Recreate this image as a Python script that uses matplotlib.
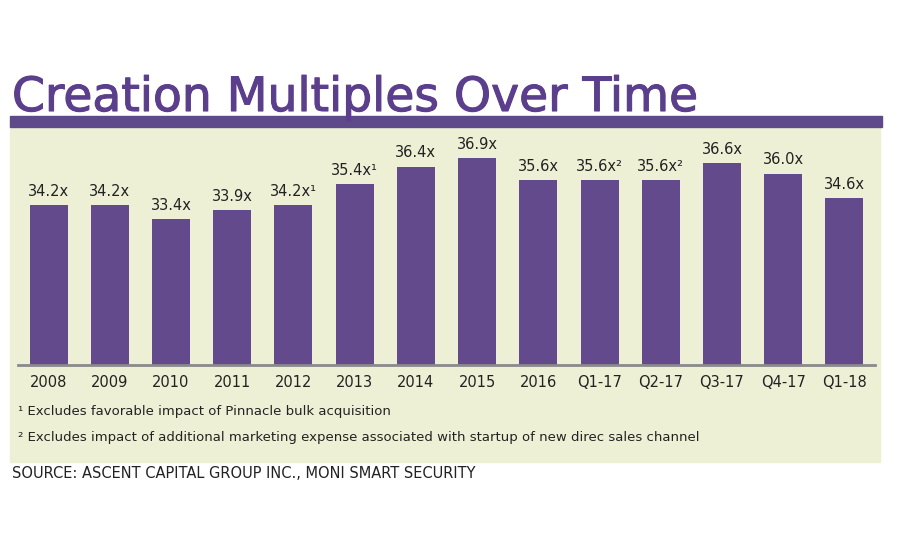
# -*- coding: utf-8 -*-
# Creation Multiples Over Time

import matplotlib.pyplot as plt
import matplotlib.patches as patches
import matplotlib.patheffects as pe

periods = ['2008', '2009', '2010', '2011', '2012', '2013', '2014',
           '2015', '2016', 'Q1-17', 'Q2-17', 'Q3-17', 'Q4-17', 'Q1-18']
multiples = [34.2, 34.2, 33.4, 33.9, 34.2, 35.4, 36.4,
             36.9, 35.6, 35.6, 35.6, 36.6, 36.0, 34.6]
notes = ['', '', '', '', '\u00b9', '\u00b9', '', '', '', '\u00b2', '\u00b2', '', '', '']
footnotes = ['\u00b9 Excludes favorable impact of Pinnacle bulk acquisition',
             '\u00b2 Excludes impact of additional marketing expense associated with startup of new direc sales channel']
source = 'SOURCE: ASCENT CAPITAL GROUP INC., MONI SMART SECURITY'

purple = '#634a8c'
title_color = '#5b3f8c'
panel = '#eef0d6'
narrow = ['Liberation Sans Narrow', 'DejaVu Sans']

fig = plt.figure(figsize=(9, 5.5), dpi=100)
fig.patch.set_facecolor('white')

# beige panel and purple band
fig.patches.append(patches.Rectangle((10/900, 1-462/550), 870/900, 337/550,
                                     transform=fig.transFigure, color=panel, zorder=-2))
fig.patches.append(patches.Rectangle((10/900, 1-127/550), 872/900, 11/550,
                                     transform=fig.transFigure, color='#5e4a8a', zorder=-1))

fig.text(12/900, 1-111/550, 'Creation Multiples Over Time', color=title_color,
         fontsize=34, family='DejaVu Sans', va='baseline', ha='left',
         path_effects=[pe.withStroke(linewidth=0.8, foreground=title_color)])

ax = fig.add_axes([18/900, 1-365/550, 857/900, 235/550])
ax.set_facecolor('none')
x = range(len(periods))
ax.bar(x, multiples, width=0.62, color=purple, bottom=0)
ax.set_xlim(-0.5, 13.5)
ax.set_ylim(25, 38.5)
for i, v in enumerate(multiples):
    ax.text(i, v + 0.35, '%.1fx%s' % (v, notes[i]), ha='center', va='bottom',
            fontsize=10.5, color='#222222')

for s in ['top', 'right', 'left']:
    ax.spines[s].set_visible(False)
ax.spines['bottom'].set_color('#8a8a8a')
ax.spines['bottom'].set_linewidth(2)
ax.set_yticks([])
ax.set_xticks(list(x))
ax.set_xticklabels(periods, fontsize=10.5, color='#222222')
ax.tick_params(axis='x', length=0, pad=7)

fig.text(18/900, 1-412/550, footnotes[0], fontsize=9.5, family=narrow,
         va='center', ha='left', color='#222222')
fig.text(18/900, 1-437/550, footnotes[1], fontsize=9.5, family=narrow,
         va='center', ha='left', color='#222222')
fig.text(12/900, 1-474/550, source, fontsize=10.5, family=narrow,
         va='center', ha='left', color='#222222')

plt.savefig('out.png', dpi=100)
